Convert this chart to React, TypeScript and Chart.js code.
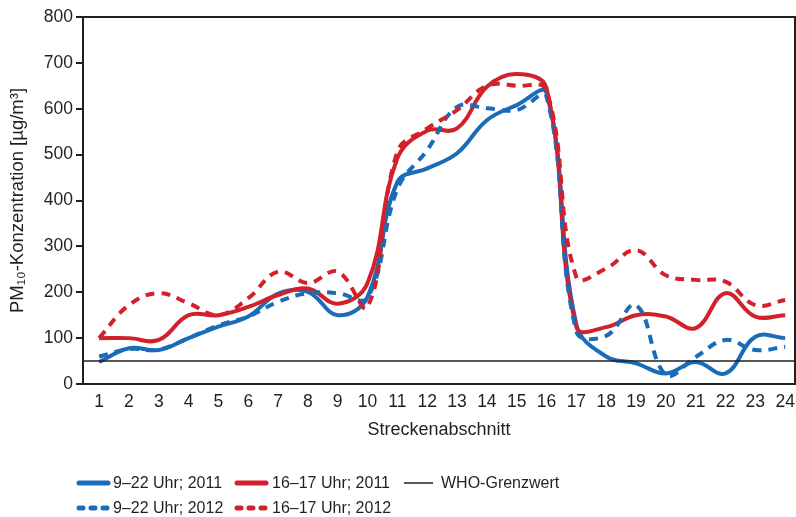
import React, { useEffect, useRef } from "react";
import { Chart, registerables } from "chart.js";

Chart.register(...registerables);

const SECTIONS = [1, 2, 3, 4, 5, 6, 7, 8, 9, 10, 11, 12, 13, 14, 15, 16, 17, 18, 19, 20, 21, 22, 23, 24];
const BLUE_2011 = [48, 78, 74, 100, 125, 147, 197, 201, 150, 190, 440, 470, 503, 575, 608, 634, 130, 60, 45, 23, 48, 23, 103, 100];
const RED_2011 = [100, 100, 96, 150, 150, 168, 194, 208, 175, 220, 492, 552, 557, 648, 676, 645, 124, 124, 150, 147, 122, 198, 147, 150];
const BLUE_2012 = [60, 76, 75, 100, 128, 147, 179, 198, 198, 188, 425, 510, 604, 601, 597, 626, 115, 105, 172, 20, 59, 96, 74, 81];
const RED_2012 = [100, 172, 198, 176, 150, 187, 245, 220, 245, 168, 506, 557, 597, 650, 650, 640, 233, 252, 292, 237, 227, 223, 172, 183];
const WHO_LIMIT = 50;
const Y_TICKS = [0, 100, 200, 300, 400, 500, 600, 700, 800];

const LABEL_BLUE_2011 = "9–22 Uhr; 2011";
const LABEL_RED_2011 = "16–17 Uhr; 2011";
const LABEL_BLUE_2012 = "9–22 Uhr; 2012";
const LABEL_RED_2012 = "16–17 Uhr; 2012";
const LABEL_WHO = "WHO-Grenzwert";
const Y_TITLE = "PM₁₀-Konzentration [µg/m³]";
const X_TITLE = "Streckenabschnitt";

const BLUE = "#1b6cb8";
const RED = "#d3212b";
const INK = "#231f20";
const FONT = "'Liberation Sans', Arial, Helvetica, sans-serif";

const X_MIN = 0.46;
const X_MAX = 24.33;

const framePlugin = {
  id: "frame",
  afterDatasetsDraw(chart: any) {
    const { ctx, chartArea } = chart;
    ctx.save();
    ctx.strokeStyle = INK;
    ctx.lineWidth = 2;
    ctx.strokeRect(chartArea.left, chartArea.top, chartArea.right - chartArea.left, chartArea.bottom - chartArea.top);
    ctx.restore();
  },
};

const toPoints = (arr: number[]) => SECTIONS.map((s, i) => ({ x: s, y: arr[i] }));

export default function App() {
  const ref = useRef<HTMLCanvasElement | null>(null);

  useEffect(() => {
    if (!ref.current) return;
    const dashed = [9, 7];
    const chart = new Chart(ref.current, {
      type: "line",
      data: {
        datasets: [
          {
            label: LABEL_WHO,
            data: [{ x: X_MIN, y: WHO_LIMIT }, { x: X_MAX, y: WHO_LIMIT }],
            borderColor: INK,
            borderWidth: 1.5,
            pointRadius: 0,
            tension: 0,
          },
          {
            label: LABEL_RED_2012,
            data: toPoints(RED_2012),
            borderColor: RED,
            borderWidth: 4,
            borderDash: dashed,
            pointRadius: 0,
            tension: 0.4,
          },
          {
            label: LABEL_BLUE_2012,
            data: toPoints(BLUE_2012),
            borderColor: BLUE,
            borderWidth: 4,
            borderDash: dashed,
            pointRadius: 0,
            tension: 0.4,
          },
          {
            label: LABEL_RED_2011,
            data: toPoints(RED_2011),
            borderColor: RED,
            borderWidth: 4,
            pointRadius: 0,
            tension: 0.4,
          },
          {
            label: LABEL_BLUE_2011,
            data: toPoints(BLUE_2011),
            borderColor: BLUE,
            borderWidth: 4,
            pointRadius: 0,
            tension: 0.4,
          },
        ],
      },
      options: {
        animation: false,
        responsive: false,
        maintainAspectRatio: false,
        layout: { padding: { top: 17, right: 1, left: 0, bottom: 0 } },
        plugins: {
          legend: { display: false },
          tooltip: { enabled: false },
        },
        scales: {
          x: {
            type: "linear",
            min: X_MIN,
            max: X_MAX,
            afterBuildTicks: (scale: any) => {
              scale.ticks = SECTIONS.map((v) => ({ value: v }));
            },
            afterFit: (scale: any) => {
              scale.height = 66;
            },
            grid: { display: false },
            border: { display: false },
            ticks: {
              autoSkip: false,
              maxRotation: 0,
              padding: 0,
              color: INK,
              font: { family: FONT, size: 17.5 },
              callback: (v: any) => String(v),
            },
            title: {
              display: true,
              text: X_TITLE,
              color: INK,
              font: { family: FONT, size: 18 },
              padding: { top: 0, bottom: 9 },
            },
          },
          y: {
            min: 0,
            max: 800,
            afterBuildTicks: (scale: any) => {
              scale.ticks = Y_TICKS.map((v) => ({ value: v }));
            },
            afterFit: (scale: any) => {
              scale.width = 83;
            },
            grid: {
              drawOnChartArea: false,
              drawTicks: true,
              tickLength: 7,
              color: INK,
              lineWidth: 2,
            },
            border: { display: false },
            ticks: {
              padding: 3,
              color: INK,
              font: { family: FONT, size: 17.5 },
            },
            title: {
              display: true,
              text: Y_TITLE,
              color: INK,
              font: { family: FONT, size: 18.5 },
              padding: { top: 7, bottom: 0 },
            },
          },
        },
      },
      plugins: [framePlugin],
    });
    return () => chart.destroy();
  }, []);

  const textStyle = (left: number, cy: number): React.CSSProperties => ({
    position: "absolute",
    left,
    top: cy - 10,
    lineHeight: "20px",
    fontFamily: FONT,
    fontSize: 16,
    color: INK,
    whiteSpace: "nowrap",
  });

  return (
    <div style={{ position: "absolute", left: 0, top: 0, width: 796, height: 517, background: "#fff" }}>
      <canvas ref={ref} width={796} height={450} style={{ position: "absolute", left: 0, top: 0, width: 796, height: 450 }} />
      <svg width={796} height={517} style={{ position: "absolute", left: 0, top: 0 }}>
        <line x1={79} y1={483} x2={108} y2={483} stroke={BLUE} strokeWidth={5} strokeLinecap="round" />
        <line x1={237} y1={483} x2={266} y2={483} stroke={RED} strokeWidth={5} strokeLinecap="round" />
        <line x1={404} y1={483} x2={433} y2={483} stroke={INK} strokeWidth={1.5} />
        <line x1={79} y1={508} x2={108} y2={508} stroke={BLUE} strokeWidth={5} strokeLinecap="round" strokeDasharray="4 8" />
        <line x1={237} y1={508} x2={266} y2={508} stroke={RED} strokeWidth={5} strokeLinecap="round" strokeDasharray="4 8" />
      </svg>
      <span style={textStyle(113, 483)}>{LABEL_BLUE_2011}</span>
      <span style={textStyle(272, 483)}>{LABEL_RED_2011}</span>
      <span style={textStyle(441, 483)}>{LABEL_WHO}</span>
      <span style={textStyle(113, 508)}>{LABEL_BLUE_2012}</span>
      <span style={textStyle(272, 508)}>{LABEL_RED_2012}</span>
    </div>
  );
}
